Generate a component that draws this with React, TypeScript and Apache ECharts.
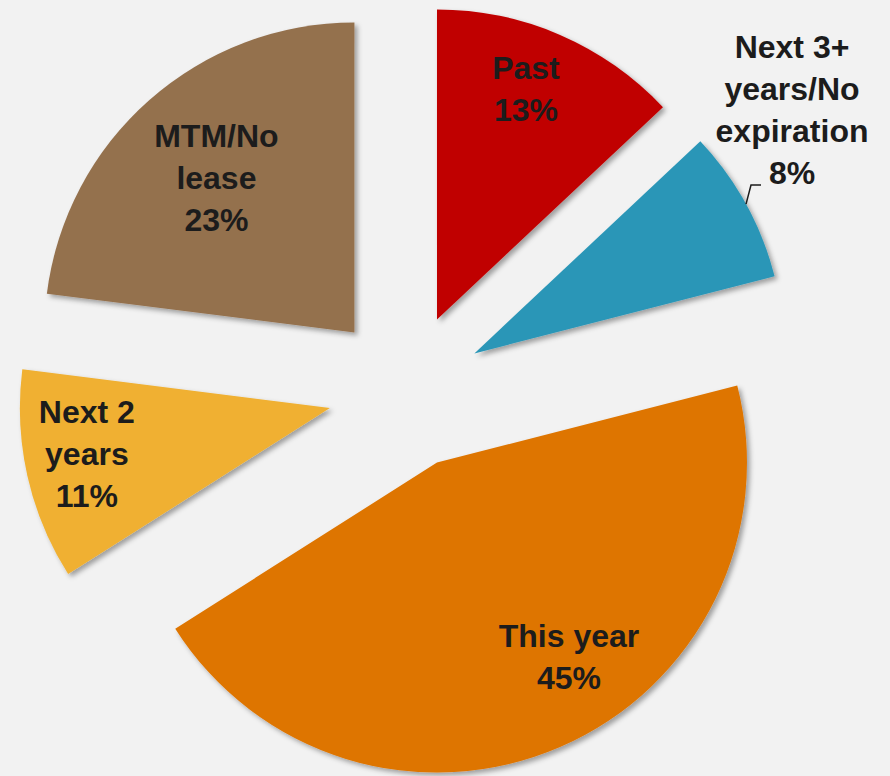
import React, { useEffect, useRef } from 'react';
import * as echarts from 'echarts';

const categories = ['Past', 'Next 3+ years/No expiration', 'This year', 'Next 2 years', 'MTM/No lease'];
const labelTexts = ['Past', 'Next 3+\nyears/No\nexpiration', 'This year', 'Next 2\nyears', 'MTM/No\nlease'];
const values = [13, 8, 45, 11, 23];
const colors = ['#C00000', '#2A96B7', '#DE7500', '#F0B030', '#94714E'];

// layout / style constants
const CX = 406;
const CY = 391;
const R = 310;
const OFFSET = 78;
const OUTSIDE_INDEX = 1;
// label centre relative to each slice's (shifted) apex
const labelVectors: number[][] = [[89, -230], [0, 0], [132, 194], [-243, 46], [-138, -154]];

export default function App() {
  const ref = useRef<HTMLDivElement>(null);
  useEffect(() => {
    if (!ref.current) return;
    const chart = echarts.init(ref.current, null, { renderer: 'svg' });
    const total = values.reduce((a, b) => a + b, 0);
    const midAngles: number[] = [];
    let acc = 0;
    values.forEach((v) => {
      midAngles.push(((acc + v / 2) / total) * 360);
      acc += v;
    });

    const textStyle = {
      fontFamily: 'Liberation Sans, Arial, sans-serif',
      fontWeight: 'bold',
      fontSize: 32,
      lineHeight: 42,
      color: '#1C1C1C',
      align: 'center',
    };

    const option: any = {
      animation: false,
      backgroundColor: '#F2F2F2',
      series: [
        {
          type: 'pie',
          center: [CX, CY],
          radius: R,
          startAngle: 90,
          clockwise: true,
          selectedMode: 'multiple',
          selectedOffset: OFFSET,
          silent: true,
          emphasis: { disabled: true },
          itemStyle: {
            shadowBlur: 5,
            shadowOffsetX: 3,
            shadowOffsetY: 3,
            shadowColor: 'rgba(0,0,0,0.35)',
          },
          label: { show: false },
          labelLine: { show: false },
          data: categories.map((name, i) => ({
            name,
            value: values[i],
            selected: true,
            itemStyle: { color: colors[i] },
          })),
        },
        {
          // label carrier: same data, invisible sectors
          type: 'pie',
          center: [CX, CY],
          radius: R,
          startAngle: 90,
          clockwise: true,
          silent: true,
          z: 5,
          avoidLabelOverlap: false,
          emphasis: { disabled: true },
          itemStyle: { color: 'rgba(0,0,0,0)' },
          label: {
            show: true,
            position: 'inside',
            ...textStyle,
            formatter: (p: any) => labelTexts[p.dataIndex] + '\n' + p.value + '%',
          },
          labelLine: { show: false },
          labelLayout: (params: any) => {
            const i = params.dataIndex;
            const a = (midAngles[i] * Math.PI) / 180;
            const dx = Math.sin(a);
            const dy = -Math.cos(a);
            const ax = CX + OFFSET * dx;
            const ay = CY + OFFSET * dy;
            if (i === OUTSIDE_INDEX) {
              const sx = ax + R * dx;
              const sy = ay + R * dy;
              return {
                x: sx + 46,
                y: sy - 94,
                align: 'center',
                verticalAlign: 'middle',
                labelLinePoints: [
                  [sx, sy],
                  [sx + 5, sy - 19],
                  [sx + 15, sy - 19],
                ],
              };
            }
            const v = labelVectors[i];
            return { x: ax + v[0], y: ay + v[1], align: 'center', verticalAlign: 'middle' };
          },
          data: categories.map((name, i) => ({
            name,
            value: values[i],
            label: i === OUTSIDE_INDEX ? { position: 'outside' } : undefined,
            labelLine:
              i === OUTSIDE_INDEX
                ? { show: true, length: 10, length2: 10, lineStyle: { color: '#1C1C1C', width: 1.5 } }
                : undefined,
          })),
        },
      ],
    };
    chart.setOption(option);
    return () => chart.dispose();
  }, []);
  return (
    <div
      ref={ref}
      style={{ position: 'absolute', left: 0, top: 0, width: 890, height: 776 }}
    />
  );
}
